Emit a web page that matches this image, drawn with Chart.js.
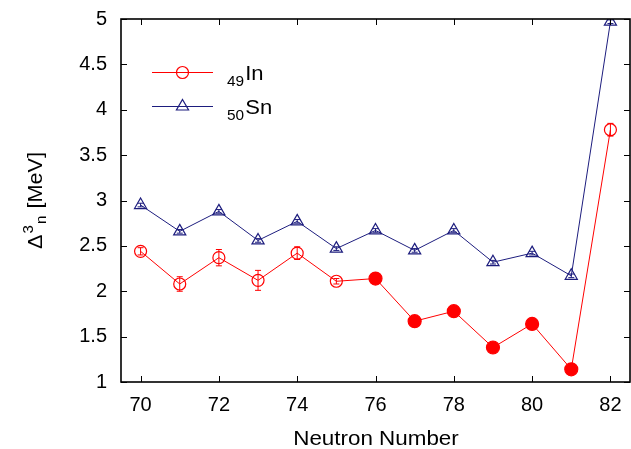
<!DOCTYPE html>
<html>
<head>
<meta charset="utf-8">
<script src="https://cdn.jsdelivr.net/npm/chart.js@4"></script>
<style>
  html, body { margin: 0; padding: 0; background: #fff; }
  canvas { display: block; }
</style>
</head>
<body>
<canvas id="chart" width="631" height="449"></canvas>
<script>
const neutrons = [70, 71, 72, 73, 74, 75, 76, 77, 78, 79, 80, 81, 82];
const inValues = [2.44, 2.08, 2.37, 2.12, 2.42, 2.11, 2.14, 1.67, 1.78, 1.38, 1.64, 1.14, 3.78];
const inErrors = [0.04, 0.08, 0.09, 0.11, 0.07, 0.03, 0, 0, 0, 0, 0, 0, 0.07];
const inFilled = [false, false, false, false, false, false, true, true, true, true, true, true, false];
const snValues = [2.95, 2.66, 2.88, 2.56, 2.77, 2.47, 2.67, 2.45, 2.67, 2.32, 2.42, 2.17, 4.97];
const snErrors = [0.02, 0.02, 0.02, 0.02, 0.02, 0.02, 0.02, 0.02, 0.02, 0.02, 0.02, 0.02, 0.02];
const xTickVals = [70, 72, 74, 76, 78, 80, 82];
const yTickVals = [1, 1.5, 2, 2.5, 3, 3.5, 4, 4.5, 5];

const RED = '#ff0000';
const BLUE = '#1d1d7e';
const FONT = '"Liberation Sans", Arial, sans-serif';

const errorBars = {
  id: 'errorBars',
  afterDatasetsDraw(chart) {
    const { ctx, scales: { x, y } } = chart;
    const sets = [[inValues, inErrors, RED], [snValues, snErrors, BLUE]];
    ctx.save();
    ctx.lineWidth = 1;
    sets.forEach(([vals, errs, color]) => {
      ctx.strokeStyle = color;
      vals.forEach((v, i) => {
        if (!errs[i]) return;
        const px = x.getPixelForValue(neutrons[i]);
        const top = y.getPixelForValue(v + errs[i]);
        const bot = y.getPixelForValue(v - errs[i]);
        ctx.beginPath();
        ctx.moveTo(px, top); ctx.lineTo(px, bot);
        ctx.moveTo(px - 3, top); ctx.lineTo(px + 3, top);
        ctx.moveTo(px - 3, bot); ctx.lineTo(px + 3, bot);
        ctx.stroke();
      });
    });
    ctx.restore();
  }
};

const frame = {
  id: 'frame',
  afterDraw(chart) {
    const { ctx, chartArea: a, scales: { x, y } } = chart;
    ctx.save();
    ctx.strokeStyle = '#000';
    ctx.lineWidth = 1;
    const t = 6;
    ctx.beginPath();
    xTickVals.forEach(v => {
      const px = Math.round(x.getPixelForValue(v)) + 0.5;
      ctx.moveTo(px, a.bottom); ctx.lineTo(px, a.bottom - t);
      ctx.moveTo(px, a.top); ctx.lineTo(px, a.top + t);
    });
    yTickVals.forEach(v => {
      const py = Math.round(y.getPixelForValue(v)) + 0.5;
      ctx.moveTo(a.left, py); ctx.lineTo(a.left + t, py);
      ctx.moveTo(a.right, py); ctx.lineTo(a.right - t, py);
    });
    ctx.stroke();
    ctx.lineWidth = 1.6;
    ctx.strokeRect(a.left, a.top, a.right - a.left, a.bottom - a.top);

    // axis titles
    ctx.fillStyle = '#000';
    ctx.textBaseline = 'alphabetic';
    ctx.save();
    ctx.translate(376, 445);
    ctx.scale(1.12, 1);
    ctx.font = '20px ' + FONT;
    ctx.textAlign = 'center';
    ctx.fillText('Neutron Number', 0, 0);
    ctx.restore();

    ctx.save();
    ctx.translate(42, 249);
    ctx.rotate(-Math.PI / 2);
    ctx.scale(1.08, 1);
    ctx.textAlign = 'left';
    ctx.font = '20px ' + FONT;
    ctx.fillText('\u0394', 0, 0);
    let w = ctx.measureText('\u0394').width + 1;
    ctx.font = '14px ' + FONT;
    ctx.fillText('3', w, -9);
    const w3 = ctx.measureText('3').width;
    ctx.fillText('n', w + w3 + 1, 4);
    w += w3 + ctx.measureText('n').width + 2;
    ctx.font = '20px ' + FONT;
    ctx.fillText(' [MeV]', w, 0);
    ctx.restore();

    // legend
    const rows = [
      { y: 72.5, color: RED, sub: '49', name: 'In', style: 'circle' },
      { y: 106.5, color: BLUE, sub: '50', name: 'Sn', style: 'triangle' }
    ];
    rows.forEach(r => {
      ctx.strokeStyle = r.color;
      ctx.lineWidth = 1;
      ctx.beginPath();
      ctx.moveTo(152, r.y); ctx.lineTo(213, r.y);
      ctx.stroke();
      ctx.fillStyle = 'rgba(0,0,0,0)';
      ctx.lineWidth = 1.2;
      Chart.helpers.drawPoint(ctx, {
        pointStyle: r.style, radius: r.style === 'circle' ? 6 : 7, borderWidth: 1.2
      }, 182.5, r.y);
      ctx.fillStyle = '#000';
      ctx.save();
      ctx.translate(227, r.y + 7);
      ctx.scale(1.1, 1);
      ctx.font = '14px ' + FONT;
      ctx.textAlign = 'left';
      ctx.fillText(r.sub, 0, 6);
      const sw = ctx.measureText(r.sub).width;
      ctx.font = '20px ' + FONT;
      ctx.fillText(r.name, sw + 1, 0);
      ctx.restore();
    });
    ctx.restore();
  }
};

new Chart(document.getElementById('chart'), {
  type: 'line',
  data: {
    datasets: [
      {
        label: '49In',
        data: neutrons.map((n, i) => ({ x: n, y: inValues[i] })),
        borderColor: RED,
        borderWidth: 1,
        pointStyle: 'circle',
        pointRadius: inFilled.map(f => f ? 6.5 : 6),
        pointBorderWidth: 1.2,
        pointBorderColor: RED,
        pointBackgroundColor: inFilled.map(f => f ? RED : 'rgba(0,0,0,0)'),
        tension: 0
      },
      {
        label: '50Sn',
        data: neutrons.map((n, i) => ({ x: n, y: snValues[i] })),
        borderColor: BLUE,
        borderWidth: 1,
        pointStyle: 'triangle',
        pointRadius: 7,
        pointBorderWidth: 1.2,
        pointBorderColor: BLUE,
        pointBackgroundColor: 'rgba(0,0,0,0)',
        tension: 0
      }
    ]
  },
  options: {
    responsive: false,
    animation: false,
    layout: { autoPadding: false, padding: { left: 0, top: 19, right: 1, bottom: 0 } },
    plugins: { legend: { display: false }, tooltip: { enabled: false } },
    scales: {
      x: {
        type: 'linear',
        min: 69.5,
        max: 82.5,
        afterBuildTicks: s => { s.ticks = xTickVals.map(v => ({ value: v })); },
        afterFit: s => { s.height = 67; s.paddingLeft = 0; s.paddingRight = 0; },
        grid: { display: false, drawTicks: false },
        border: { display: false },
        ticks: { color: '#000', padding: 11, font: { size: 20, family: FONT }, maxRotation: 0 }
      },
      y: {
        min: 1,
        max: 5,
        afterBuildTicks: s => { s.ticks = yTickVals.map(v => ({ value: v })); },
        afterFit: s => { s.width = 121; s.paddingTop = 0; s.paddingBottom = 0; },
        grid: { display: false, drawTicks: false },
        border: { display: false },
        ticks: { color: '#000', padding: 14, font: { size: 20, family: FONT }, callback: v => String(v) }
      }
    }
  },
  plugins: [errorBars, frame]
});
</script>
</body>
</html>
